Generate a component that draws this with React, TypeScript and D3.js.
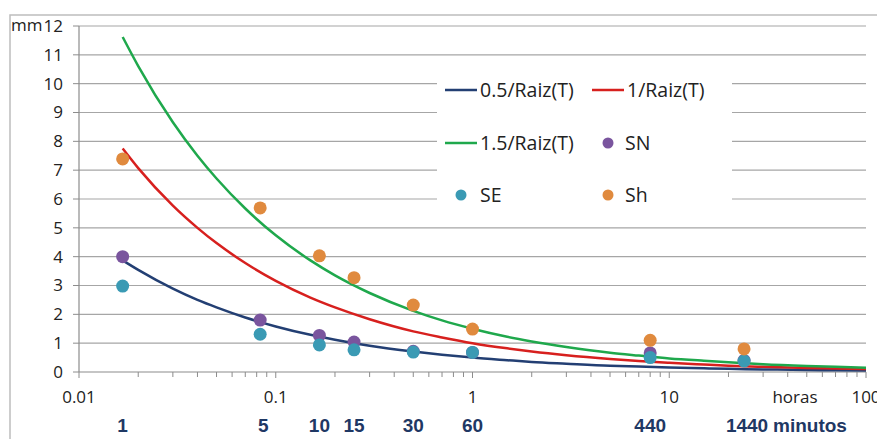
import React from 'react';
import * as d3 from 'd3';

// curve samples (hours -> mm)
const curveHours = [1 / 60, 0.02, 0.03, 0.04, 0.05, 0.07, 0.1, 0.15, 0.2, 0.3, 0.5, 0.7, 1, 1.5, 2, 3, 5, 7, 10, 15, 20, 30, 50, 70, 100];
const curveHalf = [3.87, 3.54, 2.89, 2.5, 2.24, 1.89, 1.58, 1.29, 1.12, 0.91, 0.71, 0.6, 0.5, 0.41, 0.35, 0.29, 0.22, 0.19, 0.16, 0.13, 0.11, 0.09, 0.07, 0.06, 0.05];
const curveOne = [7.75, 7.07, 5.77, 5.0, 4.47, 3.78, 3.16, 2.58, 2.24, 1.83, 1.41, 1.2, 1.0, 0.82, 0.71, 0.58, 0.45, 0.38, 0.32, 0.26, 0.22, 0.18, 0.14, 0.12, 0.1];
const curveOneHalf = [11.62, 10.61, 8.66, 7.5, 6.71, 5.67, 4.74, 3.87, 3.35, 2.74, 2.12, 1.79, 1.5, 1.22, 1.06, 0.87, 0.67, 0.57, 0.47, 0.39, 0.34, 0.27, 0.21, 0.18, 0.15];

// measured points (hours)
const pointHours = [1 / 60, 5 / 60, 10 / 60, 15 / 60, 30 / 60, 1, 8, 24];
const snValues = [4.0, 1.8, 1.27, 1.04, 0.72, 0.68, 0.66, 0.4];
const seValues = [2.98, 1.31, 0.94, 0.77, 0.69, 0.68, 0.5, 0.38];
const shValues = [7.39, 5.69, 4.03, 3.27, 2.32, 1.49, 1.1, 0.8];

const minuteLabels = ['1', '5', '10', '15', '30', '60', '440', '1440'];
const xTicks = [0.01, 0.1, 1, 10, 100];
const xTickLabels = ['0.01', '0.1', '1', '10', '100'];
const yTicks = [0, 1, 2, 3, 4, 5, 6, 7, 8, 9, 10, 11, 12];

const BLUE = '#233f73';
const RED = '#d7201e';
const GREEN = '#1fa84c';
const PURPLE = '#7a559e';
const TEAL = '#3a9ab4';
const ORANGE = '#e08a3e';
const font = '"Open Sans", sans-serif';
const boldFont = '"Liberation Sans", Arial, sans-serif';

export default function App() {
  const W = 877, H = 439;
  const x = d3.scaleLog().domain([0.01, 100]).range([79, 866]);
  const y = d3.scaleLinear().domain([0, 12]).range([372, 26]);

  const line = d3.line<[number, number]>()
    .x(d => x(d[0]))
    .y(d => y(d[1]))
    .curve(d3.curveMonotoneX);

  const curves = [
    { vals: curveHalf, color: BLUE },
    { vals: curveOne, color: RED },
    { vals: curveOneHalf, color: GREEN },
  ];
  const points = [
    { vals: snValues, color: PURPLE },
    { vals: seValues, color: TEAL },
    { vals: shValues, color: ORANGE },
  ];

  const minor: number[] = [];
  for (let e = -2; e < 2; e++) {
    for (let k = 2; k <= 9; k++) minor.push(k * Math.pow(10, e));
  }

  const legendText = { fontFamily: font, fontSize: 19.5, fill: '#222' };

  return (
    <svg width={W} height={H} style={{ position: 'absolute', left: 0, top: 0, background: '#fff' }}>
      <rect x={10} y={15} width={W} height={H} fill="#fff" stroke="#bdbdbd" strokeWidth={1.5} />
      {/* gridlines */}
      {yTicks.filter(t => t > 0).map(t => (
        <line key={'g' + t} x1={79} x2={866} y1={y(t)} y2={y(t)} stroke="#a6a6a6" strokeWidth={1.2} />
      ))}
      {/* y axis */}
      <line x1={79} x2={79} y1={y(12)} y2={y(0)} stroke="#8c8c8c" strokeWidth={1.2} />
      {yTicks.map(t => (
        <g key={'y' + t}>
          <line x1={73} x2={79} y1={y(t)} y2={y(t)} stroke="#8c8c8c" />
          <text x={63} y={y(t)} dy="0.35em" textAnchor="end" fontFamily={font} fontSize={17} fill="#222">{t}</text>
        </g>
      ))}
      <text x={11} y={y(12) - 1} dy="0.35em" fontFamily={font} fontSize={17} fill="#222">mm</text>
      {/* x axis */}
      <line x1={79} x2={866} y1={y(0)} y2={y(0)} stroke="#8c8c8c" strokeWidth={1.2} />
      {xTicks.map(t => (
        <line key={'xt' + t} x1={x(t)} x2={x(t)} y1={y(0)} y2={y(0) + 6} stroke="#8c8c8c" />
      ))}
      {minor.map(t => (
        <line key={'mt' + t} x1={x(t)} x2={x(t)} y1={y(0)} y2={y(0) + 5} stroke="#8c8c8c" />
      ))}
      {xTickLabels.map((lab, i) => (
        <text key={'xl' + i} x={x(xTicks[i])} y={403} textAnchor="middle" fontFamily={font} fontSize={17} fill="#222">{lab}</text>
      ))}
      <text x={795} y={403} textAnchor="middle" fontFamily={font} fontSize={17} fill="#222">horas</text>
      {/* minute labels */}
      {pointHours.map((h, i) => (
        <text key={'ml' + i} x={x(h) + (i === 1 ? 3 : 0) + (i === 7 ? 3 : 0)} y={432} textAnchor="middle" fontFamily={boldFont} fontWeight="bold" fontSize={19} fill="#1f3864">{minuteLabels[i]}</text>
      ))}
      <text x={x(24) + 29} y={432} fontFamily={boldFont} fontWeight="bold" fontSize={19} fill="#1f3864">minutos</text>
      {/* curves */}
      {curves.map((c, i) => (
        <path key={'c' + i} d={line(curveHours.map((h, j) => [h, c.vals[j]] as [number, number])) || ''} fill="none" stroke={c.color} strokeWidth={2.5} />
      ))}
      {/* points */}
      {points.map((p, i) => (
        <g key={'p' + i}>
          {pointHours.map((h, j) => (
            <circle key={j} cx={x(h)} cy={y(p.vals[j])} r={6.5} fill={p.color} />
          ))}
        </g>
      ))}
      {/* legend */}
      <rect x={437} y={63} width={295} height={151} fill="#fff" />
      <line x1={445} x2={477} y1={90} y2={90} stroke={BLUE} strokeWidth={2.5} />
      <text x={480} y={90} dy="0.35em" {...legendText}>0.5/Raiz(T)</text>
      <line x1={592} x2={624} y1={90} y2={90} stroke={RED} strokeWidth={2.5} />
      <text x={627} y={90} dy="0.35em" {...legendText}>1/Raiz(T)</text>
      <line x1={445} x2={477} y1={143} y2={143} stroke={GREEN} strokeWidth={2.5} />
      <text x={480} y={143} dy="0.35em" {...legendText}>1.5/Raiz(T)</text>
      <circle cx={608} cy={143} r={5.5} fill={PURPLE} />
      <text x={625} y={143} dy="0.35em" {...legendText}>SN</text>
      <circle cx={461} cy={195} r={5.5} fill={TEAL} />
      <text x={480} y={195} dy="0.35em" {...legendText}>SE</text>
      <circle cx={608} cy={195} r={5.5} fill={ORANGE} />
      <text x={625} y={195} dy="0.35em" {...legendText}>Sh</text>
    </svg>
  );
}
